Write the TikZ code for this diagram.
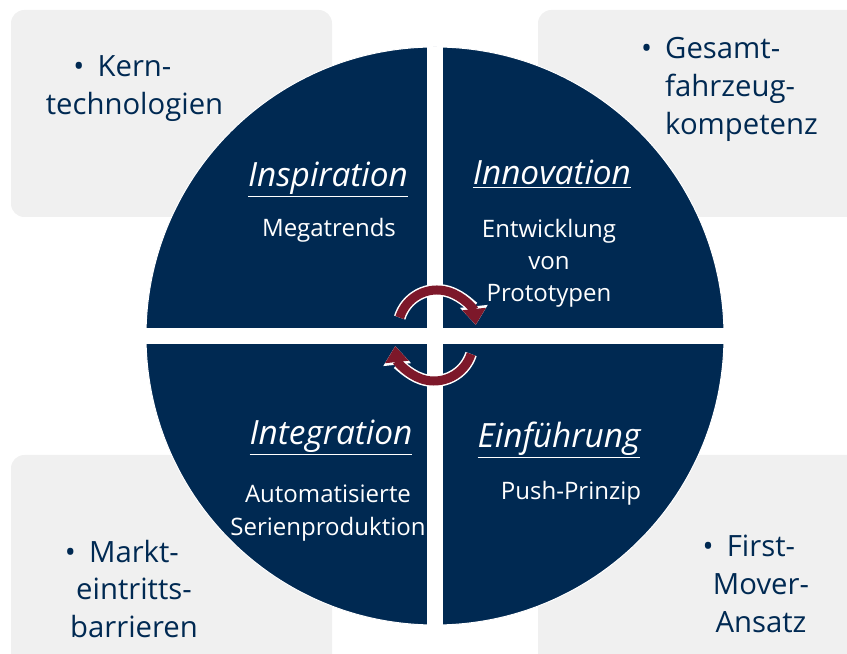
\documentclass[tikz,border=0pt]{standalone}
\usepackage{fontspec}
\setmainfont{Open Sans}
\usetikzlibrary{arrows.meta}
\definecolor{navy}{RGB}{0,41,82}
\definecolor{boxgray}{RGB}{240,240,240}
\definecolor{wine}{RGB}{125,24,42}

\begin{document}
\begin{tikzpicture}[x=0.3mm,y=0.3mm,
 side box/.style={fill=boxgray,rounded corners=4mm},
 side text/.style={text=navy,inner sep=0pt,font=\fontsize{25}{32.4}\selectfont},
 phase title/.style={text=white,inner sep=0pt,anchor=base,font=\fontsize{28.5}{31}\selectfont\itshape},
 phase text/.style={text=white,inner sep=0pt,align=center,font=\fontsize{20.5}{27.5}\selectfont},
 cycle rim/.style={white,line width=3.6mm,-{Triangle[width=8mm,length=5.6mm]}},
 cycle arrow/.style={wine,line width=2.7mm,-{Triangle[width=6.8mm,length=4.8mm]}}]
 \useasboundingbox (0,0) rectangle (847,654);
 \clip (0,0) rectangle (847,654);
 \fill[side box] (11,437) rectangle (332,644);
 \fill[side box] (538,437) rectangle (880,644);
 \fill[side box] (11,-20) rectangle (332,199);
 \fill[side box] (538,-20) rectangle (880,199);
 \coordinate (hub) at (435,318);
 \begin{scope}
  \clip (hub) circle[radius=289];
  \fill[navy] (hub) circle[radius=289];
  \fill[white] (427,0) rectangle (443,654);
  \fill[white] (0,310) rectangle (847,326);
 \end{scope}
 \draw[white,line width=0.3mm] (hub) circle[radius=289];
 \node[side text,align=center] (kern) at (134.5,565.5) {\llap{\textbullet\hspace{0.45em}}Kern-\\technologien};
 \node[side text,align=left,anchor=west] (gesamt) at (665,564.5) {\llap{\textbullet\hspace{0.45em}}Gesamt-\\fahrzeug-\\kompetenz};
 \node[side text,align=center] (markt) at (134,65) {\llap{\textbullet\hspace{0.45em}}Markt-\\eintritts-\\barrieren};
 \node[side text,align=center] (first) at (761,70) {\llap{\textbullet\hspace{0.45em}}First-\\Mover-\\Ansatz};
 \node[phase title] (inspiration) at (328,467) {\underline{Inspiration}};
 \node[phase title] (innovation) at (552,469) {\underline{Innovation}};
 \node[phase title] (integration) at (331,209) {\underline{Integration}};
 \node[phase title] (einfuehrung) at (559,206) {\underline{Einführung}};
 \node[phase text,anchor=base] (megatrends) at (329,417) {Megatrends};
 \node[phase text] (entwicklung) at (549,391) {Entwicklung\\von\\Prototypen};
 \node[phase text] (serien) at (328,141) {Automatisierte\\Serienproduktion};
 \node[phase text,anchor=base] (push) at (571,154) {Push-Prinzip};
 \coordinate (upper) at (437,325);
 \coordinate (lower) at (434,312);
 \draw[cycle rim] (upper) ++(163:39) arc[start angle=163,end angle=6,radius=39];
 \draw[cycle arrow] (upper) ++(163:39) arc[start angle=163,end angle=6,radius=39];
 \draw[cycle rim] (lower) ++(-18:39) arc[start angle=-18,end angle=-174,radius=39];
 \draw[cycle arrow] (lower) ++(-18:39) arc[start angle=-18,end angle=-174,radius=39];
\end{tikzpicture}
\end{document}
